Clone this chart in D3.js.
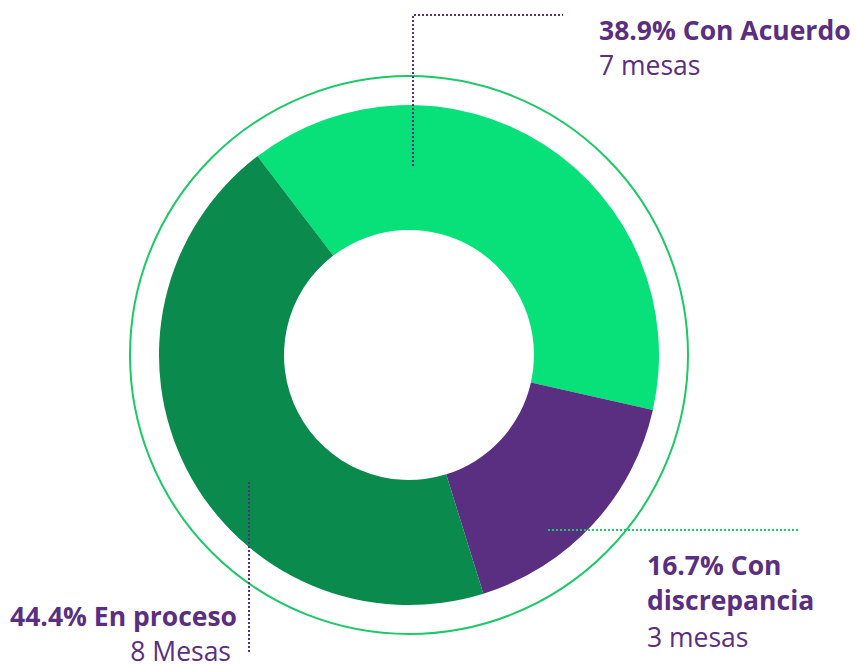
<!DOCTYPE html>
<html>
<head>
<meta charset="utf-8">
<script src="https://cdn.jsdelivr.net/npm/d3@7"></script>
<style>
  body { margin: 0; background: #fff; }
  svg { display: block; font-family: "Open Sans", sans-serif; }
</style>
</head>
<body>
<svg width="856" height="665"></svg>
<script>
// Data
const categories = ["Con Acuerdo", "Con discrepancia", "En proceso"]
const months = [7, 3, 8]
const monthLabels = ["7 mesas", "3 mesas", "8 Mesas"]
const colors = ["#08E07A", "#5A2E80", "#0A8A4C"]

const purple = "#5A2E80"

const svg = d3.select("svg"),
    width = +svg.attr("width")

const cx = 409, cy = 355
const outerR = 250, innerR = 125

const total = d3.sum(months)
const pct = months.map(v => (v / total * 100).toFixed(1) + "%")

// Pie layout, starts a bit left of the top
const pie = d3.pie().sort(null).startAngle(-0.651).endAngle(-0.651 + 2 * Math.PI)
const arc = d3.arc().innerRadius(innerR).outerRadius(outerR)

const g = svg.append("g").attr("transform", `translate(${cx},${cy})`)

// outer thin ring
g.append("circle")
    .attr("r", 279)
    .attr("fill", "none")
    .attr("stroke", "#1CC968")
    .attr("stroke-width", 2)

g.selectAll("path")
    .data(pie(months))
    .join("path")
    .attr("d", arc)
    .attr("fill", (d, i) => colors[i])

// Leader lines (dotted)
const leaders = [
    { pts: [[413, 166], [413, 15], [563, 15]], color: purple },
    { pts: [[548, 530], [798, 530]], color: "#1CC968" },
    { pts: [[249, 482], [249, 652]], color: purple }
]
svg.selectAll("path.leader")
    .data(leaders)
    .join("path")
    .attr("class", "leader")
    .attr("d", d => d3.line()(d.pts))
    .attr("fill", "none")
    .attr("stroke", d => d.color)
    .attr("stroke-width", 2)
    .attr("stroke-dasharray", "2,2")

// Labels
function label(x, y, anchor, lines) {
    const t = svg.append("text")
        .attr("x", x).attr("y", y)
        .attr("text-anchor", anchor)
        .attr("fill", purple)
        .style("font-size", "26.5px")
    lines.forEach((l, i) => {
        t.append("tspan")
            .attr("x", x + (l.dx || 0))
            .attr("dy", i === 0 ? 0 : l.dy)
            .style("font-weight", l.bold ? 700 : 400)
            .text(l.text)
    })
}

label(599, 40, "start", [
    { text: pct[0] + " " + categories[0], bold: true },
    { text: monthLabels[0], dy: 35 }
])
label(647, 575, "start", [
    { text: pct[1] + " Con", bold: true },
    { text: "discrepancia", bold: true, dy: 35 },
    { text: monthLabels[1], dy: 37 }
])
label(237, 626, "end", [
    { text: pct[2] + " " + categories[2], bold: true },
    { text: monthLabels[2], dy: 35, dx: -6 }
])
</script>
</body>
</html>
